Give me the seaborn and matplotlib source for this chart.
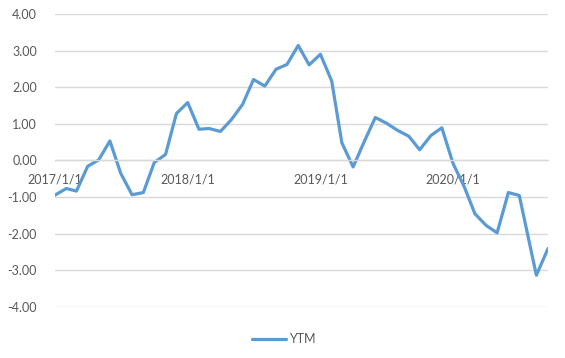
import matplotlib
matplotlib.use("Agg")
import matplotlib.pyplot as plt
import seaborn as sns
import pandas as pd

# ---- data ----
monthly_dates = list(pd.date_range("2017-01-01", "2020-07-01", freq="MS"))
extra_dates = [pd.Timestamp("2020-08-17"), pd.Timestamp("2020-09-18")]
dates = monthly_dates + extra_dates

ytm = [-0.95, -0.77, -0.84, -0.16, 0.01, 0.53, -0.36, -0.94, -0.88, -0.06,
       0.16, 1.28, 1.58, 0.85, 0.87, 0.79, 1.11, 1.53, 2.21, 2.03,
       2.49, 2.62, 3.14, 2.61, 2.90, 2.17, 0.48, -0.18, 0.50, 1.17,
       1.02, 0.82, 0.66, 0.29, 0.68, 0.89, -0.09, -0.73, -1.46, -1.78,
       -1.98, -0.88, -0.96, -3.14, -2.41]

xtick_dates = ["2017-01-01", "2018-01-01", "2019-01-01", "2020-01-01"]
xtick_labels = ["2017/1/1", "2018/1/1", "2019/1/1", "2020/1/1"]
ytick_values = [-4, -3, -2, -1, 0, 1, 2, 3, 4]
ytick_labels = ["-4.00", "-3.00", "-2.00", "-1.00", "0.00", "1.00", "2.00", "3.00", "4.00"]

df = pd.DataFrame({"date": dates, "YTM": ytm})

sns.set_theme(style="white")
plt.rcParams["font.family"] = ["Lato", "DejaVu Sans"]

fig = plt.figure(figsize=(5.65, 3.58), dpi=100)
ax = fig.add_axes([55 / 565, 1 - 306.7 / 358, (548 - 55) / 565, (306.7 - 14) / 358])

line_color = "#5b9bd5"
grid_color = "#d9d9d9"
text_color = "#595959"

sns.lineplot(data=df, x="date", y="YTM", ax=ax, color=line_color,
             linewidth=2.3, label="YTM", legend=False)

ax.set_ylim(-4, 4)
ax.set_xlim(pd.Timestamp(dates[0]), pd.Timestamp(dates[-1]))
ax.set_yticks(ytick_values)
ax.set_yticklabels(ytick_labels)
ax.set_xticks([pd.Timestamp(d) for d in xtick_dates])
ax.set_xticklabels(xtick_labels)

ax.yaxis.grid(True, color=grid_color, linewidth=1.0)
ax.xaxis.grid(False)
ax.set_axisbelow(True)

for s in ["left", "right", "top"]:
    ax.spines[s].set_visible(False)
ax.spines["bottom"].set_position(("data", 0))
ax.spines["bottom"].set_color(grid_color)
ax.spines["bottom"].set_linewidth(1.0)

ax.tick_params(axis="y", length=0, pad=13, labelsize=9, labelcolor=text_color)
ax.tick_params(axis="x", direction="out", length=4.5, width=1.0, color=grid_color,
               pad=5, labelsize=9, labelcolor=text_color)
ax.set_xlabel("")
ax.set_ylabel("")

handles, labels = ax.get_legend_handles_labels()
fig.legend(handles, labels, loc="center", bbox_to_anchor=(0.502, 0.053),
           frameon=False, fontsize=9, handlelength=2.7, handletextpad=0.25,
           labelcolor=text_color)

fig.savefig("out.png", dpi=100)
